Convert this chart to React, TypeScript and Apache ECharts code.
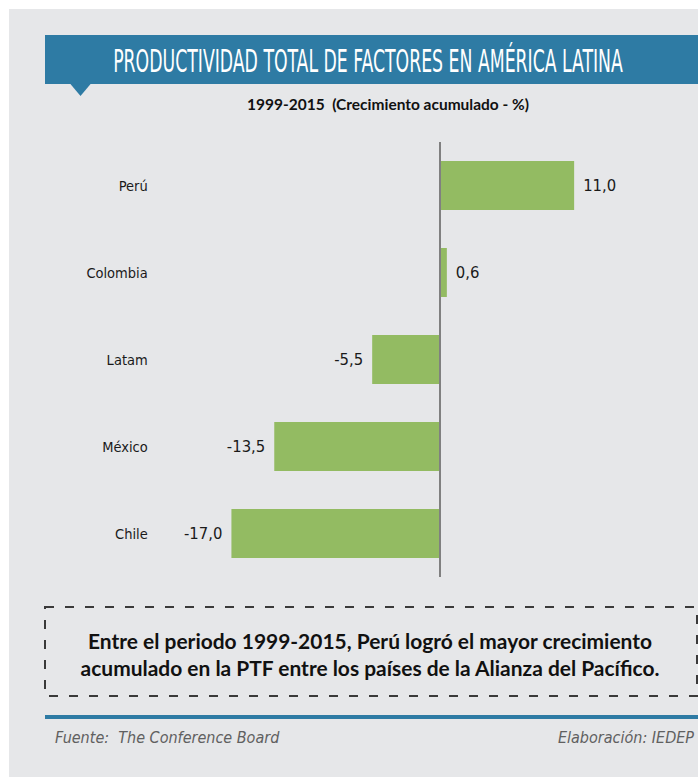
import React, { useEffect, useRef } from "react";
import * as echarts from "echarts";

const categories = ["Perú", "Colombia", "Latam", "México", "Chile"];
const values = [11.0, 0.6, -5.5, -13.5, -17.0];

const titleText = "PRODUCTIVIDAD TOTAL DE FACTORES EN AMÉRICA LATINA";
const subtitleText = "1999-2015  (Crecimiento acumulado - %)";
const noteLines = [
  "Entre el periodo 1999-2015, Perú logró el mayor crecimiento",
  "acumulado en la PTF entre los países de la Alianza del Pacífico.",
];
const sourceText = "Fuente:  The Conference Board";
const creditText = "Elaboración: IEDEP";

const NARROW = '"DejaVu Sans Condensed", "Liberation Sans Narrow", sans-serif';
const BOLD = 'Lato, "Open Sans", sans-serif';
const BLUE = "#2e7ba4";
const GREEN = "#93bb62";

function measure(text: string, font: string): number {
  const c = document.createElement("canvas");
  const ctx = c.getContext("2d");
  if (!ctx) return 0;
  ctx.font = font;
  return ctx.measureText(text).width;
}

function fitScale(text: string, font: string, target: number): number {
  const w = measure(text, font);
  return w > 0 ? target / w : 1;
}

export default function App() {
  const ref = useRef<HTMLDivElement>(null);
  useEffect(() => {
    if (!ref.current) return;
    const chart = echarts.init(ref.current, null, { renderer: "svg" });
    const titleScale = fitScale(titleText, `32px ${NARROW}`, 510);
    const subSize = Math.min(16, 14 * fitScale(subtitleText, `bold 14px ${BOLD}`, 282));
    const noteSize = Math.min(21, 18 * fitScale(noteLines[0], `bold 18px ${BOLD}`, 565));
    const fmt = (v: number) => v.toFixed(1).replace(".", ",");
    chart.setOption({
      animation: false,
      backgroundColor: "transparent",
      grid: { left: 194.7, right: 13.7, top: 142, bottom: 200 },
      xAxis: {
        type: "value",
        min: -20,
        max: 20,
        show: false,
        splitLine: { show: false },
      },
      yAxis: {
        type: "category",
        data: categories,
        inverse: true,
        axisLine: { show: false },
        axisTick: { show: false },
        axisLabel: {
          margin: 47,
          fontFamily: NARROW,
          fontSize: 14.5,
          color: "#1a1a1a",
        },
      },
      series: [
        {
          type: "bar",
          barWidth: 49,
          itemStyle: { color: GREEN },
          data: values.map((v) => ({
            value: v,
            label: { position: v >= 0 ? "right" : "left" },
          })),
          label: {
            show: true,
            distance: 9,
            fontFamily: NARROW,
            fontSize: 16.5,
            color: "#1a1a1a",
            formatter: (p: any) => fmt(p.value),
          },
          markLine: {
            silent: true,
            symbol: "none",
            label: { show: false },
            lineStyle: { color: "#808080", width: 2, type: "solid" },
            data: [{ xAxis: 0 }],
          },
        },
      ],
      graphic: [
        {
          type: "rect",
          shape: { x: 45, y: 35, width: 653, height: 49 },
          style: { fill: BLUE },
        },
        {
          type: "polygon",
          shape: { points: [[70, 83.5], [91, 83.5], [80.5, 96]] },
          style: { fill: BLUE },
        },
        {
          type: "text",
          x: 368,
          y: 61,
          scaleX: titleScale,
          style: {
            text: titleText,
            x: 0,
            y: 0,
            align: "center",
            verticalAlign: "middle",
            fill: "#ffffff",
            font: `32px ${NARROW}`,
          },
        },
        {
          type: "text",
          x: 388,
          y: 104,
          style: {
            text: subtitleText,
            align: "center",
            verticalAlign: "middle",
            fill: "#111",
            font: `bold ${subSize}px ${BOLD}`,
          },
        },
        {
          type: "rect",
          shape: { x: 45, y: 607, width: 652, height: 89 },
          style: {
            fill: "none",
            stroke: "#3a3a3a",
            lineWidth: 2,
            lineDash: [9, 11],
          },
        },
        {
          type: "text",
          x: 370,
          y: 640,
          style: {
            text: noteLines[0],
            align: "center",
            verticalAlign: "middle",
            fill: "#111",
            font: `bold ${noteSize}px ${BOLD}`,
          },
        },
        {
          type: "text",
          x: 370,
          y: 667,
          style: {
            text: noteLines[1],
            align: "center",
            verticalAlign: "middle",
            fill: "#111",
            font: `bold ${noteSize}px ${BOLD}`,
          },
        },
        {
          type: "rect",
          shape: { x: 45, y: 715, width: 653, height: 4 },
          style: { fill: BLUE },
        },
        {
          type: "text",
          x: 55,
          y: 737,
          style: {
            text: sourceText,
            align: "left",
            verticalAlign: "middle",
            fill: "#606060",
            font: `italic 16px ${NARROW}`,
          },
        },
        {
          type: "text",
          x: 694,
          y: 737,
          style: {
            text: creditText,
            align: "right",
            verticalAlign: "middle",
            fill: "#606060",
            font: `italic 16px ${NARROW}`,
          },
        },
      ],
    });
    return () => chart.dispose();
  }, []);

  return (
    <div
      style={{
        position: "fixed",
        left: 0,
        top: 0,
        width: 698,
        height: 777,
        background: "#ffffff",
      }}
    >
      <div
        style={{
          position: "absolute",
          left: 9,
          top: 9,
          width: 689,
          height: 768,
          background: "#e6e7e9",
        }}
      />
      <div
        ref={ref}
        style={{ position: "absolute", left: 0, top: 0, width: 698, height: 777 }}
      />
    </div>
  );
}
